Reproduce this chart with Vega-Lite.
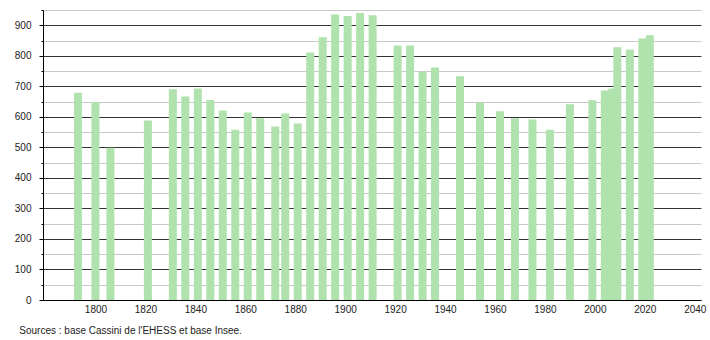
{
  "$schema": "https://vega.github.io/schema/vega-lite/v6.json",
  "width": 658,
  "height": 290,
  "autosize": "none",
  "padding": {"left": 43, "top": 10, "right": 9, "bottom": 40},
  "background": "white",
  "config": {"view": {"stroke": null}, "font": "Liberation Sans"},
  "title": {
    "text": "Sources : base Cassini de l'EHESS et base Insee.",
    "orient": "bottom",
    "anchor": "start",
    "frame": "bounds",
    "fontSize": 10,
    "fontWeight": "normal",
    "color": "#222",
    "offset": 12,
    "dx": 5
  },
  "data": {
    "values": [
      {"year": 1793, "population": 679},
      {"year": 1800, "population": 649},
      {"year": 1806, "population": 499},
      {"year": 1821, "population": 588},
      {"year": 1831, "population": 690},
      {"year": 1836, "population": 667},
      {"year": 1841, "population": 693},
      {"year": 1846, "population": 655},
      {"year": 1851, "population": 621},
      {"year": 1856, "population": 558},
      {"year": 1861, "population": 614},
      {"year": 1866, "population": 595},
      {"year": 1872, "population": 568},
      {"year": 1876, "population": 611},
      {"year": 1881, "population": 578},
      {"year": 1886, "population": 811},
      {"year": 1891, "population": 861},
      {"year": 1896, "population": 935},
      {"year": 1901, "population": 930},
      {"year": 1906, "population": 940},
      {"year": 1911, "population": 933},
      {"year": 1921, "population": 834},
      {"year": 1926, "population": 834},
      {"year": 1931, "population": 748},
      {"year": 1936, "population": 762},
      {"year": 1946, "population": 733},
      {"year": 1954, "population": 647},
      {"year": 1962, "population": 618},
      {"year": 1968, "population": 595},
      {"year": 1975, "population": 591},
      {"year": 1982, "population": 558},
      {"year": 1990, "population": 641},
      {"year": 1999, "population": 654},
      {"year": 2004, "population": 686},
      {"year": 2007, "population": 693},
      {"year": 2009, "population": 828},
      {"year": 2014, "population": 821},
      {"year": 2019, "population": 857},
      {"year": 2022, "population": 867}
    ]
  },
  "encoding": {
    "x": {
      "field": "year",
      "type": "quantitative",
      "scale": {"domain": [1779, 2042.5], "nice": false, "zero": false, "padding": 0},
      "axis": {
        "values": [1800, 1820, 1840, 1860, 1880, 1900, 1920, 1940, 1960, 1980, 2000, 2020, 2040],
        "format": "d",
        "title": null,
        "grid": false,
        "ticks": false,
        "domainColor": "#000",
        "labelFontSize": 10,
        "labelColor": "#222",
        "labelPadding": 4,
        "labelOverlap": false,
        "zindex": 1
      }
    }
  },
  "layer": [
    {
      "mark": {"type": "bar", "width": 8, "opacity": 0},
      "encoding": {
        "y": {
          "field": "population",
          "type": "quantitative",
          "scale": {"domain": [0, 950], "nice": false, "padding": 0},
          "axis": {
            "orient": "left",
            "values": [50, 150, 250, 350, 450, 550, 650, 750, 850, 950],
            "labels": false,
            "grid": true,
            "gridColor": "#c8c8c8",
            "gridWidth": 1,
            "tickSize": 2,
            "tickColor": "#000",
            "domain": false,
            "title": null
          }
        }
      }
    },
    {
      "mark": {"type": "bar", "width": 8, "color": "#b0e2ad"},
      "encoding": {
        "y": {
          "field": "population",
          "type": "quantitative",
          "scale": {"domain": [0, 950], "nice": false, "padding": 0},
          "axis": {
            "orient": "left",
            "values": [0, 100, 200, 300, 400, 500, 600, 700, 800, 900],
            "grid": true,
            "gridColor": "#333",
            "gridWidth": 1,
            "tickSize": 4,
            "tickColor": "#000",
            "domainColor": "#000",
            "labelPadding": 8,
            "labelFontSize": 10,
            "labelColor": "#222",
            "title": null
          }
        }
      }
    }
  ],
  "resolve": {"axis": {"y": "independent"}}
}
